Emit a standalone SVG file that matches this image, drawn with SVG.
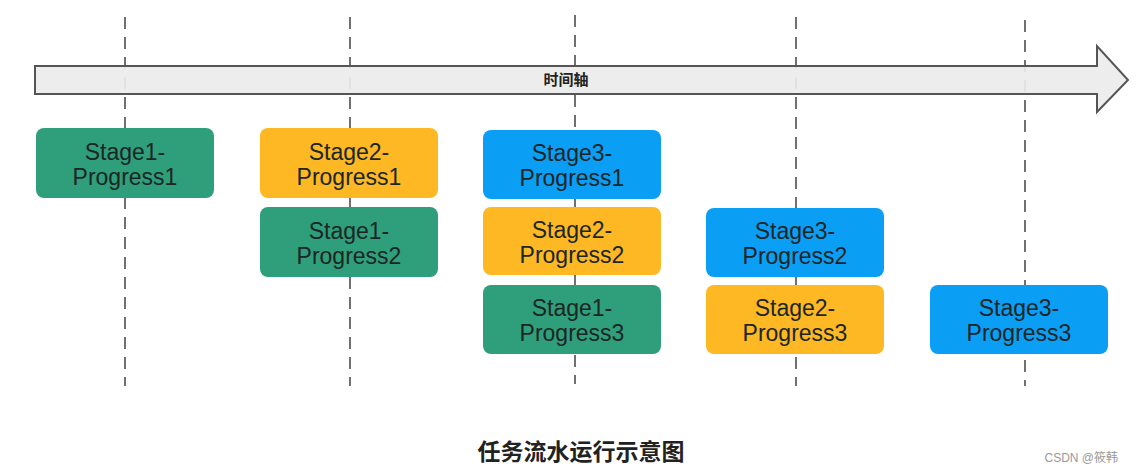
<svg xmlns="http://www.w3.org/2000/svg" width="1146" height="473" viewBox="0 0 1146 473">
<style>
.dash{stroke:#707070;stroke-width:2;stroke-dasharray:12 8;fill:none}
.node rect{rx:8;ry:8}
.g rect{fill:#2f9f7b}
.o rect{fill:#fdb824}
.b rect{fill:#0b9ef5}
.node text{font-family:"Liberation Sans",Arial,sans-serif;font-size:23px;fill:#1c2624;text-anchor:middle}
</style>
<rect width="1146" height="473" fill="#ffffff"/>
<g id="connectors">
<line class="dash" x1="125" y1="17" x2="125" y2="386"/>
<line class="dash" x1="350" y1="17" x2="350" y2="386"/>
<line class="dash" x1="575" y1="15" x2="575" y2="384"/>
<line class="dash" x1="796" y1="17" x2="796" y2="386"/>
<line class="dash" x1="1025" y1="20" x2="1025" y2="386"/>
</g>
<g id="timeline">
<path d="M35,66 H1097 V46 L1128,80 L1097,112 V94 H35 Z" fill="#ececec" fill-opacity="0.92" stroke="#555555" stroke-width="2" stroke-linejoin="miter"/>
<text x="566" y="85" font-family="'Noto Sans CJK SC',sans-serif" font-size="15" font-weight="bold" fill="#222" text-anchor="middle">时间轴</text>
</g>
<g id="s1p1" class="node g"><rect x="36" y="128" width="178" height="70"/><text x="125" y="160">Stage1-</text><text x="125" y="185">Progress1</text></g>
<g id="s2p1" class="node o"><rect x="260" y="128" width="178" height="70"/><text x="349" y="160">Stage2-</text><text x="349" y="185">Progress1</text></g>
<g id="s1p2" class="node g"><rect x="260" y="207" width="178" height="70"/><text x="349" y="239">Stage1-</text><text x="349" y="264">Progress2</text></g>
<g id="s3p1" class="node b"><rect x="483" y="130" width="178" height="69"/><text x="572" y="161">Stage3-</text><text x="572" y="186">Progress1</text></g>
<g id="s2p2" class="node o"><rect x="483" y="207" width="178" height="68"/><text x="572" y="238">Stage2-</text><text x="572" y="263">Progress2</text></g>
<g id="s1p3" class="node g"><rect x="483" y="285" width="178" height="69"/><text x="572" y="316">Stage1-</text><text x="572" y="341">Progress3</text></g>
<g id="s3p2" class="node b"><rect x="706" y="208" width="178" height="69"/><text x="795" y="239">Stage3-</text><text x="795" y="264">Progress2</text></g>
<g id="s2p3" class="node o"><rect x="706" y="285" width="178" height="69"/><text x="795" y="316">Stage2-</text><text x="795" y="341">Progress3</text></g>
<g id="s3p3" class="node b"><rect x="930" y="285" width="178" height="69"/><text x="1019" y="316">Stage3-</text><text x="1019" y="341">Progress3</text></g>
<text x="581" y="460" font-family="'Noto Sans CJK SC',sans-serif" font-size="23" font-weight="bold" fill="#222" text-anchor="middle">任务流水运行示意图</text>
<text x="1118" y="462" font-family="'Liberation Sans','Noto Sans CJK SC',sans-serif" font-size="12" fill="#999" text-anchor="end">CSDN @筱韩</text>
</svg>
